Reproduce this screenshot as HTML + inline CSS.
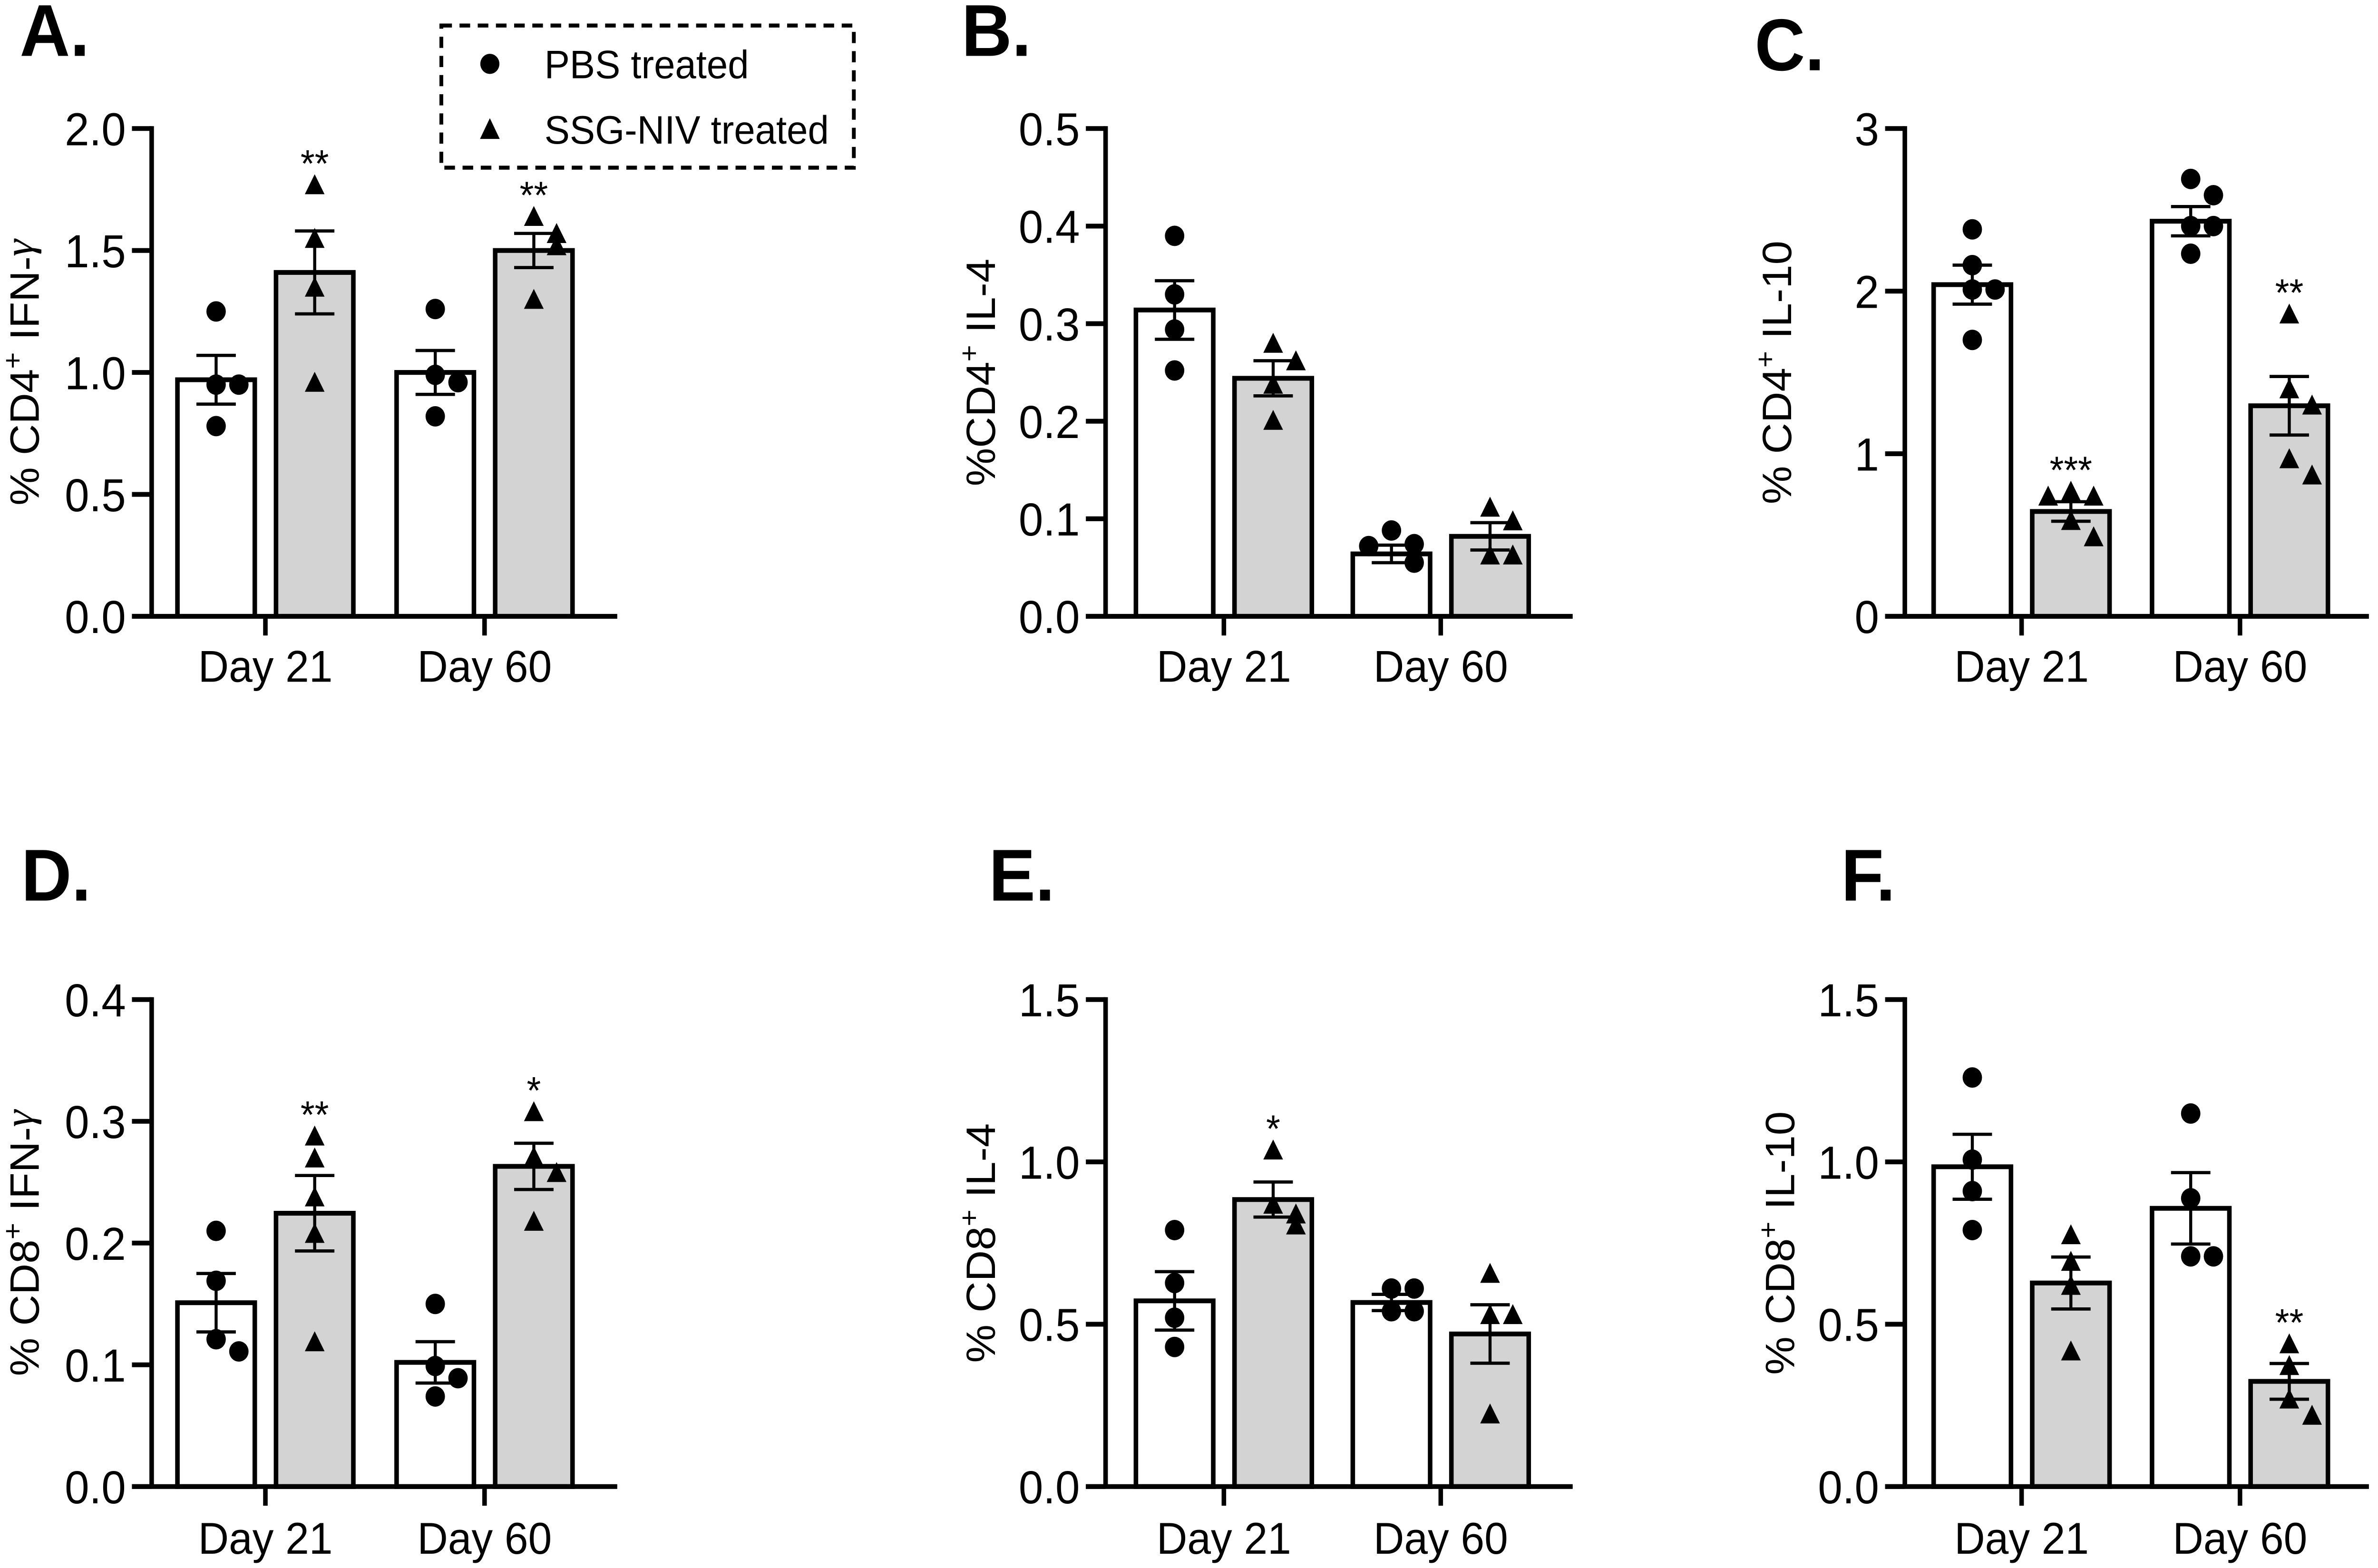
<!DOCTYPE html>
<html><head><meta charset="utf-8"><title>Cytokine bar charts</title>
<style>
html,body{margin:0;padding:0;background:#fff;overflow:hidden;width:100vw;height:100vh;}
svg{display:block;position:absolute;left:0;top:0;width:100vw;height:100vh;}
text{font-family:"Liberation Sans",Arial,sans-serif;fill:#000;}
</style></head>
<body>
<svg id="fig" xmlns="http://www.w3.org/2000/svg" viewBox="0 0 1568 982" preserveAspectRatio="none">
<rect x="0" y="0" width="1568" height="982" fill="#fff"/>
<g>
<rect x="291" y="16" width="272" height="89" fill="none" stroke="#000" stroke-width="2.5" stroke-dasharray="7,5"/>
<circle cx="323" cy="40" r="6.3" fill="#000"/>
<text x="359" y="49" font-size="25">PBS treated</text>
<path d="M316.5,87 L323,74 L329.5,87 Z" fill="#000"/>
<text x="359" y="90" font-size="25">SSG-NIV treated</text>
</g>
</svg>
<script>
// ---- data ----
const categories = ["Day 21", "Day 60"];
const groups = ["PBS treated", "SSG-NIV treated"];

const aTicks = ["0.0","0.5","1.0","1.5","2.0"];
const aMeans = [0.97, 1.41, 1.00, 1.50];
const aSem = [0.10, 0.17, 0.09, 0.07];
const aPoints = [[1.25,0.95,0.95,0.78],[1.77,1.55,1.35,0.96],[1.26,0.99,0.96,0.82],[1.64,1.57,1.52,1.30]];
const aStars = ["","**","","**"];

const bTicks = ["0.0","0.1","0.2","0.3","0.4","0.5"];
const bMeans = [0.314, 0.244, 0.064, 0.082];
const bSem = [0.030, 0.018, 0.009, 0.014];
const bPoints = [[0.39,0.33,0.294,0.252],[0.28,0.262,0.238,0.201],[0.088,0.074,0.072,0.055],[0.112,0.098,0.063,0.063]];
const bStars = ["","","",""];

const cTicks = ["0","1","2","3"];
const cMeans = [2.04, 0.645, 2.43, 1.295];
const cSem = [0.12, 0.06, 0.09, 0.18];
const cPoints = [[2.38,2.16,2.01,2.01,1.70],[0.77,0.74,0.74,0.59,0.49],[2.69,2.59,2.40,2.40,2.23],[1.86,1.40,1.30,0.97,0.87]];
const cStars = ["","***","","**"];

const dTicks = ["0.0","0.1","0.2","0.3","0.4"];
const dMeans = [0.151, 0.2245, 0.102, 0.263];
const dSem = [0.024, 0.031, 0.017, 0.019];
const dPoints = [[0.21,0.169,0.121,0.111],[0.288,0.270,0.238,0.208,0.119],[0.150,0.099,0.089,0.074],[0.308,0.271,0.258,0.218]];
const dStars = ["","**","","*"];

const eTicks = ["0.0","0.5","1.0","1.5"];
const eMeans = [0.572, 0.884, 0.567, 0.47];
const eSem = [0.09, 0.054, 0.025, 0.09];
const ePoints = [[0.79,0.627,0.52,0.43],[1.037,0.87,0.84,0.806],[0.61,0.61,0.54,0.54],[0.657,0.53,0.53,0.224]];
const eStars = ["","*","",""];

const fTicks = ["0.0","0.5","1.0","1.5"];
const fMeans = [0.985, 0.627, 0.857, 0.324];
const fSem = [0.10, 0.08, 0.11, 0.055];
const fPoints = [[1.26,1.007,0.91,0.79],[0.776,0.694,0.62,0.418],[1.149,0.888,0.709,0.709],[0.44,0.373,0.27,0.22]];
const fStars = ["","","","**"];

// ---- layout ----
const NS = "http://www.w3.org/2000/svg";
const svg = document.getElementById("fig");
function mk(tag, attrs, parent){
  const e = document.createElementNS(NS, tag);
  for (const k in attrs) e.setAttribute(k, attrs[k]);
  parent.appendChild(e);
  return e;
}
const panels = [
 {id:"a", letter:"A.", lx:13, ly:35, ax:100, aend:407, top:80.5, bot:386, centers:[175,319.5], ticks:aTicks, means:aMeans, sem:aSem, pts:aPoints, stars:aStars, title:["% CD4","+"," IFN-","γ"], tx:25.5, dayY:427},
 {id:"b", letter:"B.", lx:634, ly:35, ax:729, aend:1037, top:80.5, bot:386, centers:[807,950], ticks:bTicks, means:bMeans, sem:bSem, pts:bPoints, stars:bStars, title:["%CD4","+"," IL-4",""], tx:656, dayY:427},
 {id:"c", letter:"C.", lx:1157, ly:44, ax:1256, aend:1562, top:80.5, bot:386, centers:[1333,1477], ticks:cTicks, means:cMeans, sem:cSem, pts:cPoints, stars:cStars, title:["% CD4","+"," IL-10",""], tx:1181, dayY:427},
 {id:"d", letter:"D.", lx:14, ly:564, ax:100, aend:407, top:626, bot:931, centers:[175,319.5], ticks:dTicks, means:dMeans, sem:dSem, pts:dPoints, stars:dStars, title:["% CD8","+"," IFN-","γ"], tx:25.5, dayY:973},
 {id:"e", letter:"E.", lx:652, ly:564, ax:729, aend:1037, top:626, bot:931, centers:[807,950], ticks:eTicks, means:eMeans, sem:eSem, pts:ePoints, stars:eStars, title:["% CD8","+"," IL-4",""], tx:656, dayY:973},
 {id:"f", letter:"F.", lx:1214, ly:564, ax:1256, aend:1562, top:626, bot:931, centers:[1333,1477], ticks:fTicks, means:fMeans, sem:fSem, pts:fPoints, stars:fStars, title:["% CD8","+"," IL-10",""], tx:1183, dayY:973}
];
const BW = 51;
panels.forEach(p => {
  const g = mk("g", {}, svg);
  
  
  const tmin = parseFloat(p.ticks[0]), tmax = parseFloat(p.ticks[p.ticks.length-1]);
  const y = v => p.bot - (v - tmin) / (tmax - tmin) * (p.bot - p.top);

  const L = mk("text", {x:p.lx, y:p.ly, "font-size":46, "font-weight":"bold"}, g);
  L.textContent = p.letter;
  
  

  const cy = (p.top + p.bot) / 2;
  const T = mk("text", {x:p.tx, y:cy, "font-size":27, "text-anchor":"middle", transform:`rotate(-90 ${p.tx} ${cy})`}, g);
  
  
  const s1 = mk("tspan", {}, T); s1.textContent = p.title[0];
  const s2 = mk("tspan", {dy:-11, "font-size":18}, T); s2.textContent = p.title[1];
  const s3 = mk("tspan", {dy:11}, T); s3.textContent = p.title[2];
  if (p.title[3]) {
    const s4 = mk("tspan", {"font-family":"Liberation Serif, serif", "font-style":"italic", dy:-4}, T);
    s4.textContent = p.title[3];
  }

  for (let i = 0; i < 4; i++) {
    const c = p.centers[Math.floor(i/2)];
    const left = (i % 2 === 0) ? c - 58 : c + 7;
    const yt = y(p.means[i]);
    const r = mk("rect", {x:left, y:yt, width:BW, height:p.bot - yt, fill:(i%2?"#d3d3d3":"#fff"), stroke:"#000", "stroke-width":3}, g);
    
    
  }
  for (let i = 0; i < 4; i++) {
    const c = p.centers[Math.floor(i/2)];
    const mid = ((i % 2 === 0) ? c - 58 : c + 7) + BW/2;
    const placed = [];
    p.pts[i].forEach(v => {
      const py = y(v);
      const k = placed.filter(q => Math.abs(q - py) < 11).length;
      const off = k === 0 ? 0 : (k % 2 ? 1 : -1) * Math.ceil(k/2) * 15;
      placed.push(py);
      const px = mid + off;
      let m;
      if (i % 2 === 0) m = mk("circle", {cx:px, cy:py, r:6.4, fill:"#000"}, g);
      else m = mk("path", {d:`M${px-6.5},${py+6} L${px},${py-6.5} L${px+6.5},${py+6} Z`, fill:"#000"}, g);
      
      
    });
  }
  for (let i = 0; i < 4; i++) {
    const c = p.centers[Math.floor(i/2)];
    const mid = ((i % 2 === 0) ? c - 58 : c + 7) + BW/2;
    const y1 = y(p.means[i] + p.sem[i]), y2 = y(p.means[i] - p.sem[i]);
    const e = mk("path", {d:`M${mid},${y1} V${y2} M${mid-13},${y1} H${mid+13} M${mid-13},${y2} H${mid+13}`, stroke:"#000", "stroke-width":2, fill:"none"}, g);
    
    
    if (p.stars[i]) {
      const topv = Math.max(Math.max(...p.pts[i]), p.means[i] + p.sem[i]);
      const st = mk("text", {x:mid, y:y(topv) - 5, "font-size":24, "text-anchor":"middle"}, g);
      st.textContent = p.stars[i];
      
      
    }
  }
  const ya = mk("path", {d:`M${p.ax},${p.top-1.5} V${p.bot}`, stroke:"#000", "stroke-width":3, fill:"none"}, g);
  
  
  const xa = mk("path", {d:`M${p.ax-13},${p.bot} H${p.aend}`, stroke:"#000", "stroke-width":3, fill:"none"}, g);
  
  
  p.ticks.forEach(t => {
    const ty = y(parseFloat(t));
    mk("path", {d:`M${p.ax-13},${ty} H${p.ax}`, stroke:"#000", "stroke-width":3}, g);
    const tl = mk("text", {x:p.ax-17, y:ty+10.5, "font-size":29, "text-anchor":"end"}, g);
    tl.textContent = t;
    
    
  });
  categories.forEach((cat, j) => {
    const cx = p.centers[j];
    mk("path", {d:`M${cx},${p.bot} V${p.bot+12}`, stroke:"#000", "stroke-width":3}, g);
    const dl = mk("text", {x:cx, y:p.dayY, "font-size":28, "text-anchor":"middle"}, g);
    dl.textContent = cat;
    
    
  });
});
</script>
</body></html>
